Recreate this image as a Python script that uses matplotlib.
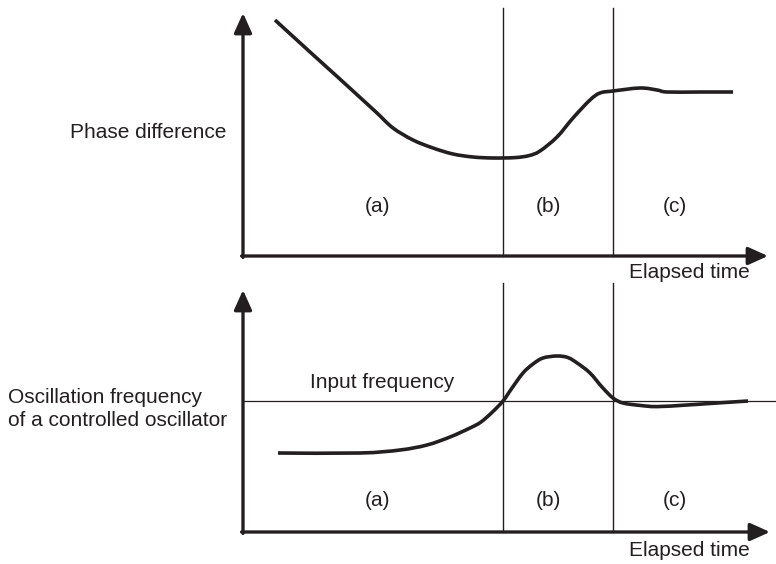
import numpy as np
import matplotlib
matplotlib.use("Agg")
import matplotlib.pyplot as plt
from matplotlib.path import Path
from matplotlib.patches import PathPatch

plt.rcParams['font.family'] = ['Liberation Sans', 'DejaVu Sans']

# time axis in arbitrary units, phase regions (a) | (b) | (c)
t_bounds = [13.0, 18.5]
region_names = ['(a)', '(b)', '(c)']
region_t = [6.75, 15.25, 21.6]

# phase difference vs elapsed time
t_phase = [1.6, 3.35, 4.7, 5.85, 6.7, 7.5, 8.5, 9.5, 10.5, 11.5, 12.5, 13.6,
           14.3, 14.85, 15.7, 16.5, 17.35, 17.85, 18.5, 19.85, 20.7,
           21.2, 22.85, 24.5]
phase = [11.8, 10.2, 8.98, 7.93, 7.15, 6.4, 5.8, 5.4, 5.1, 4.95, 4.9, 4.92,
         5.02, 5.25, 5.95, 6.9, 7.8, 8.15, 8.25, 8.4, 8.3,
         8.2, 8.2, 8.2]

# oscillation frequency of the controlled oscillator vs elapsed time
t_freq = [1.75, 5.85, 7.85, 9.2, 10.35, 11.35, 11.9, 12.45, 13.0, 13.45,
          14.0, 14.5, 15.0, 15.7, 16.25, 16.75, 17.35, 17.95, 18.5, 19.0,
          19.85, 20.7, 22.2, 23.7, 25.25]
freq = [3.95, 3.95, 4.1, 4.35, 4.75, 5.2, 5.5, 5.98, 6.55, 7.2,
        7.95, 8.4, 8.7, 8.8, 8.72, 8.42, 7.95, 7.25, 6.7, 6.45,
        6.33, 6.27, 6.35, 6.45, 6.55]
input_freq = 6.55

ink = '#231f20'
W, H = 776, 564
PX = 20.0  # pixels per unit

fig = plt.figure(figsize=(W / 100, H / 100), dpi=100)


def panel(x0, y0, top):
    ax = fig.add_axes([x0 / W, 1 - y0 / H, (W - x0) / W, (y0 - top) / H])
    ax.set_xlim(0, (W - x0) / PX)
    ax.set_ylim(0, (y0 - top) / PX)
    ax.axis('off')
    return ax


def draw_axes(ax, xtip, ytip):
    arw = dict(arrowstyle='-|>,head_length=0.6,head_width=0.27', lw=2.4,
               color=ink, shrinkA=0, shrinkB=0, mutation_scale=20)
    ax.annotate('', xy=(0, ytip), xytext=(0, -0.07), arrowprops=arw,
                annotation_clip=False)
    ax.annotate('', xy=(xtip, 0), xytext=(-0.07, 0), arrowprops=arw,
                annotation_clip=False)


def smooth_curve(ax, x, y):
    # cubic bezier segments through the given points (catmull-rom tangents)
    p = np.column_stack([x, y])
    verts = [p[0]]
    codes = [Path.MOVETO]
    for i in range(len(p) - 1):
        p0 = p[i - 1] if i > 0 else p[i]
        p3 = p[i + 2] if i + 2 < len(p) else p[i + 1]
        c1 = p[i] + (p[i + 1] - p0) / 6.0
        c2 = p[i + 1] - (p3 - p[i]) / 6.0
        verts += [c1, c2, p[i + 1]]
        codes += [Path.CURVE4] * 3
    ax.add_patch(PathPatch(Path(verts, codes), fill=False, ec=ink, lw=2.6,
                           capstyle='butt', clip_on=False))


fs = 15

# top: phase difference
ax1 = panel(243, 256, 0)
for tb in t_bounds:
    ax1.plot([tb, tb], [0, 12.4], color=ink, lw=1.0, clip_on=False)
smooth_curve(ax1, t_phase, phase)
draw_axes(ax1, 26.25, 12.15)
for name, tx in zip(region_names, region_t):
    ax1.text(tx, 2.45, name, ha='center', va='center', fontsize=fs, color=ink)
ax1.text(-0.85, 6.15, 'Phase difference', ha='right', va='center',
         fontsize=fs, color=ink)
ax1.text(25.35, -0.85, 'Elapsed time', ha='right', va='center',
         fontsize=fs, color=ink, clip_on=False)

# bottom: oscillator frequency
ax2 = panel(243, 532, 270)
for tb in t_bounds:
    ax2.plot([tb, tb], [0, 12.45], color=ink, lw=1.0, clip_on=False)
ax2.plot([0, 30], [input_freq, input_freq], color=ink, lw=0.9, clip_on=False)
smooth_curve(ax2, t_freq, freq)
draw_axes(ax2, 26.35, 12.1)
for name, tx in zip(region_names, region_t):
    ax2.text(tx, 1.6, name, ha='center', va='center', fontsize=fs, color=ink)
ax2.text(3.35, 7.5, 'Input frequency', ha='left', va='center',
         fontsize=fs, color=ink)
ax2.text(-11.75, 6.15, 'Oscillation frequency\nof a controlled oscillator',
         ha='left', va='center', fontsize=fs, color=ink, linespacing=1.3)
ax2.text(25.35, -0.95, 'Elapsed time', ha='right', va='center',
         fontsize=fs, color=ink, clip_on=False)

fig.savefig('out.png', dpi=100)
